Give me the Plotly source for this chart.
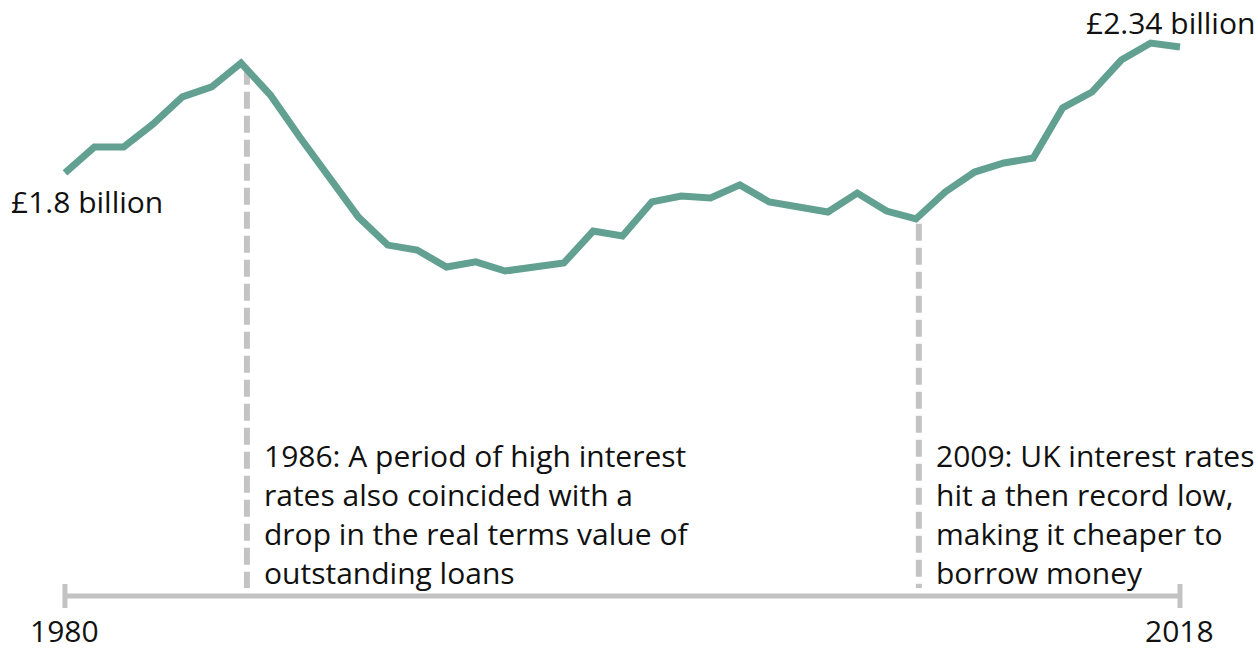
import plotly.graph_objects as go

# Outstanding loans, real terms (£ billion), 1980-2018
years = list(range(1980, 2019))
values = [
    1.800, 1.911, 1.911, 2.010, 2.126, 2.169, 2.271, 2.134, 1.954, 1.779,
    1.611, 1.491, 1.470, 1.397, 1.419, 1.380, 1.397, 1.414, 1.551, 1.530,
    1.676, 1.701, 1.693, 1.749, 1.676, 1.654, 1.633, 1.714, 1.637, 1.603,
    1.719, 1.804, 1.843, 1.864, 2.079, 2.147, 2.284, 2.357, 2.340,
]
start_label = "£1.8 billion"
end_label = "£2.34 billion"
axis_labels = ["1980", "2018"]
events = {
    1986: "1986: A period of high interest<br>rates also coincided with a<br>"
          "drop in the real terms value of<br>outstanding loans",
    2009: "2009: UK interest rates<br>hit a then record low,<br>"
          "making it cheaper to<br>borrow money",
}

W, H = 1258, 651
LINE = "#62a091"
GREY = "#c3c3c3"
INK = "#111111"
FONT = "Open Sans"
FS = 30

X_RANGE = [1977.785, 2020.659]
Y_RANGE = [-0.2486, 2.5414]
AXIS_Y = 1 - 596 / H          # baseline position in paper units
DASH_BOTTOM = 0.021           # where the event guides stop, in data units


def px(xp, yp):
    """Pixel position on the canvas -> paper coordinates."""
    return xp / W, 1 - yp / H


fig = go.Figure()
fig.add_trace(go.Scatter(
    x=years, y=values, mode="lines",
    line=dict(color=LINE, width=7),
    hoverinfo="skip", showlegend=False,
))

shapes = []
# baseline with end ticks
shapes.append(dict(type="line", xref="x", yref="paper",
                   x0=years[0], x1=years[-1], y0=AXIS_Y, y1=AXIS_Y,
                   line=dict(color=GREY, width=5)))
for yr in (years[0], years[-1]):
    shapes.append(dict(type="line", xref="x", yref="paper",
                       x0=yr, x1=yr, y0=1 - 584 / H, y1=1 - 608 / H,
                       line=dict(color=GREY, width=5)))

# dashed guides from event years down to the baseline
offsets = {1986: 0.2, 2009: 0.1}
for yr in events:
    v = values[years.index(yr)]
    shapes.append(dict(type="line", xref="x", yref="y",
                       x0=yr + offsets[yr], x1=yr + offsets[yr],
                       y0=v - 0.02, y1=DASH_BOTTOM,
                       line=dict(color=GREY, width=6, dash="17px,7px"),
                       layer="below"))

annotations = []
# event notes
note_left = {1986: 263, 2009: 935}
for yr, txt in events.items():
    ax, ay = px(note_left[yr], 434)
    annotations.append(dict(text=txt, xref="paper", yref="paper",
                            x=ax, y=ay, xanchor="left", yanchor="top",
                            align="left", showarrow=False, borderpad=0,
                            font=dict(family=FONT, size=FS, color=INK)))

# start / end value labels
sx, sy = px(10, 201)
annotations.append(dict(text=start_label, xref="paper", yref="paper",
                        x=sx, y=sy, xanchor="left", yanchor="middle",
                        showarrow=False, borderpad=0,
                        font=dict(family=FONT, size=FS, color=INK)))
ex, ey = px(1256, 22)
annotations.append(dict(text=end_label, xref="paper", yref="paper",
                        x=ex, y=ey, xanchor="right", yanchor="middle",
                        showarrow=False, borderpad=0,
                        font=dict(family=FONT, size=FS, color=INK)))

# axis year labels
for yr, lab in zip((years[0], years[-1]), axis_labels):
    annotations.append(dict(text=lab, xref="x", yref="paper",
                            x=yr, y=1 - 630 / H, xanchor="center",
                            yanchor="middle", showarrow=False, borderpad=0,
                            font=dict(family=FONT, size=FS, color=INK)))

fig.update_layout(
    width=W, height=H,
    margin=dict(l=0, r=0, t=0, b=0),
    paper_bgcolor="white", plot_bgcolor="white",
    xaxis=dict(range=X_RANGE, visible=False, fixedrange=True),
    yaxis=dict(range=Y_RANGE, visible=False, fixedrange=True),
    shapes=shapes, annotations=annotations,
    font=dict(family=FONT, color=INK),
)

fig.write_html("out.html", config={"displayModeBar": False})
